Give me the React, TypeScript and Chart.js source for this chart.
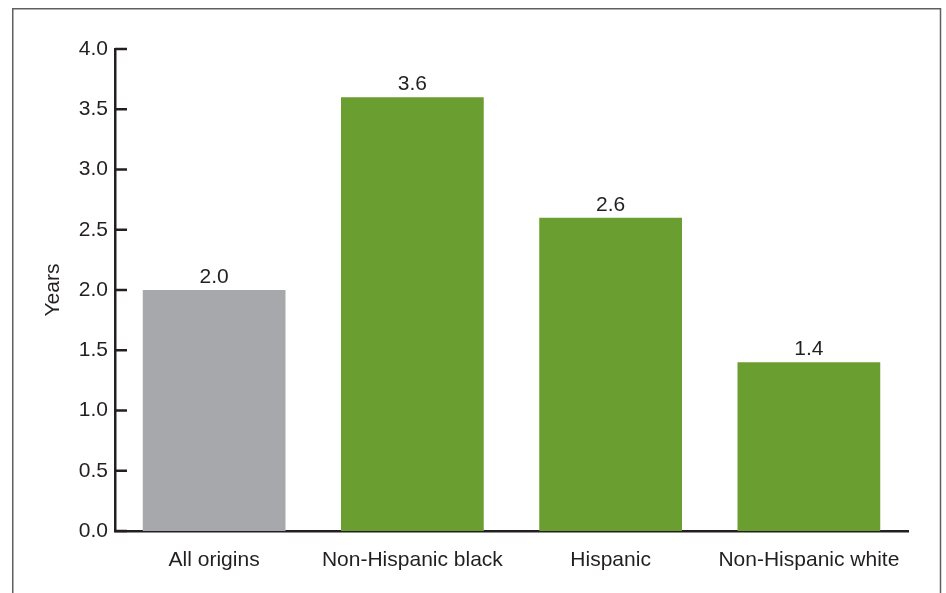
import React, { useEffect, useRef } from "react";
import { Chart, registerables } from "chart.js";

Chart.register(...registerables);

const categories = ["All origins", "Non-Hispanic black", "Hispanic", "Non-Hispanic white"];
const values = [2.0, 3.6, 2.6, 1.4];
const barColors = ["#a7a8ab", "#6b9e31", "#6b9e31", "#6b9e31"];
const yTickMin = 0;
const yTickMax = 4;
const yTickStep = 0.5;
const yTitle = "Years";

const FONT = "'Liberation Sans', Arial, sans-serif";
const INK = "#231f20";
const FS = 21;

export default function App() {
  const ref = useRef<HTMLCanvasElement | null>(null);
  useEffect(() => {
    if (!ref.current) return;
    const framePlugin = {
      id: "frame",
      beforeDraw(chart: any) {
        const ctx = chart.ctx;
        ctx.save();
        ctx.strokeStyle = "#5f5f5f";
        ctx.lineWidth = 1.5;
        ctx.beginPath();
        ctx.moveTo(12.75, 593);
        ctx.lineTo(12.75, 8.75);
        ctx.lineTo(940.5, 8.75);
        ctx.lineTo(940.5, 593);
        ctx.stroke();
        ctx.restore();
      },
    };
    const ticksPlugin = {
      id: "innerTicks",
      afterDraw(chart: any) {
        const ctx = chart.ctx;
        const ys = chart.scales.y;
        const left = chart.chartArea.left;
        ctx.save();
        ctx.strokeStyle = INK;
        ctx.lineWidth = 2.5;
        ys.ticks.forEach((t: any) => {
          const py = ys.getPixelForValue(t.value);
          ctx.beginPath();
          ctx.moveTo(left, py);
          ctx.lineTo(left + 12, py);
          ctx.stroke();
        });
        const meta = chart.getDatasetMeta(0);
        ctx.fillStyle = INK;
        ctx.font = `${FS}px ${FONT}`;
        ctx.textAlign = "center";
        ctx.textBaseline = "alphabetic";
        meta.data.forEach((bar: any, i: number) => {
          ctx.fillText(values[i].toFixed(1), bar.x, bar.y - 7);
        });
        ctx.restore();
      },
    };
    const chart = new Chart(ref.current, {
      type: "bar",
      data: {
        labels: categories,
        datasets: [
          {
            data: values,
            backgroundColor: barColors,
            borderWidth: 0,
            categoryPercentage: 0.72,
            barPercentage: 1,
          },
        ],
      },
      options: {
        animation: false,
        responsive: false,
        maintainAspectRatio: false,
        layout: { padding: { left: 0, right: 38, top: 49, bottom: 0 } },
        plugins: { legend: { display: false }, tooltip: { enabled: false } },
        scales: {
          x: {
            grid: { display: false, drawTicks: false },
            border: { display: true, color: INK, width: 2.5 },
            ticks: { color: INK, font: { family: FONT, size: FS }, padding: 17, maxRotation: 0, autoSkip: false },
            afterFit(s: any) {
              s.height = 62;
            },
          },
          y: {
            min: yTickMin,
            max: yTickMax,
            grid: { display: false, drawTicks: false },
            border: { display: true, color: INK, width: 2.5 },
            ticks: {
              stepSize: yTickStep,
              color: INK,
              font: { family: FONT, size: FS },
              padding: 7,
              callback: (v: any) => Number(v).toFixed(1),
            },
            title: {
              display: true,
              text: yTitle,
              color: INK,
              font: { family: FONT, size: FS },
              padding: { top: 41, bottom: 0 },
            },
            afterFit(s: any) {
              s.width = 115;
            },
          },
        },
      },
      plugins: [framePlugin, ticksPlugin],
    });
    return () => chart.destroy();
  }, []);
  return (
    <div style={{ position: "fixed", left: 0, top: 0, width: 946, height: 593, background: "#fff" }}>
      <canvas ref={ref} width={946} height={593} style={{ width: 946, height: 593 }} />
    </div>
  );
}
